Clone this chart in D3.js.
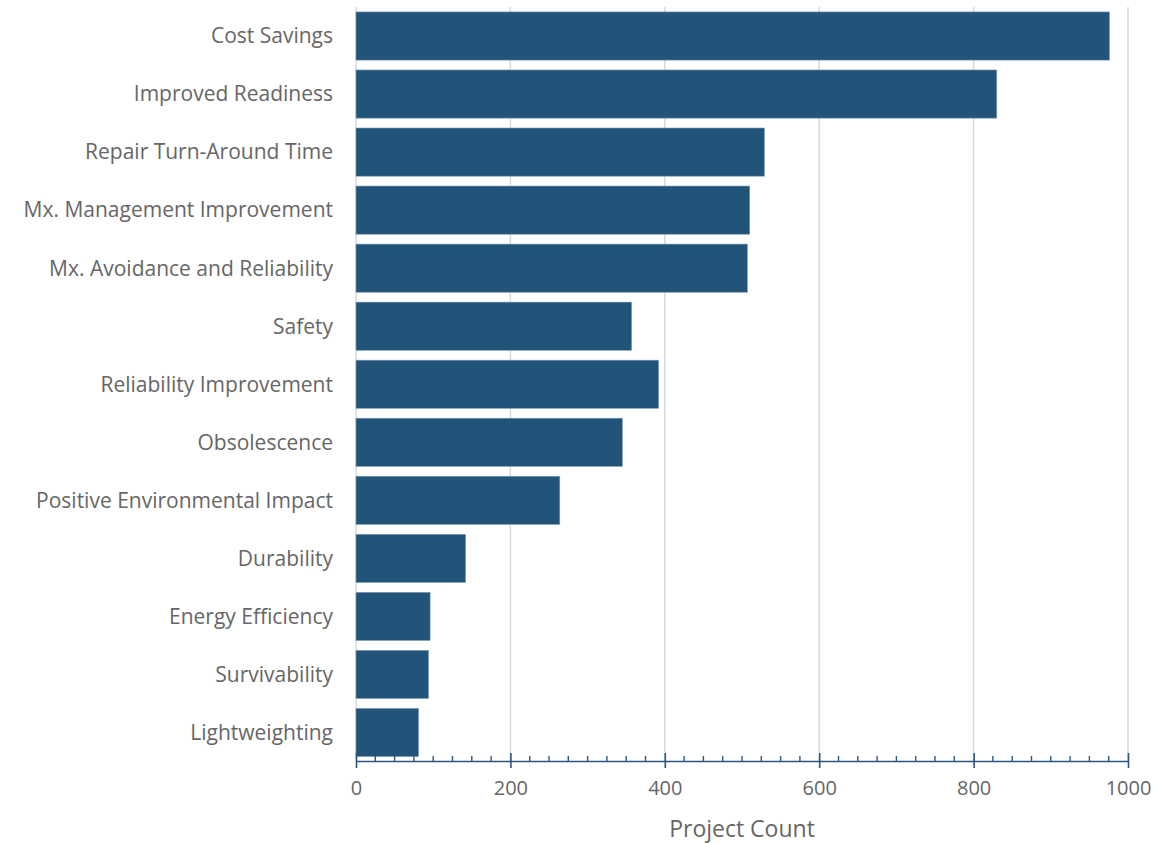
<!DOCTYPE html>
<html>
<head>
<meta charset="utf-8">
<script src="https://cdn.jsdelivr.net/npm/d3@7"></script>
<style>
  body { margin: 0; background: #fff; }
  text { font-family: "Open Sans", "Noto Sans", sans-serif; fill: #666; }
</style>
</head>
<body>
<script>
const categories = [
  'Cost Savings', 'Improved Readiness', 'Repair Turn-Around Time',
  'Mx. Management Improvement', 'Mx. Avoidance and Reliability', 'Safety',
  'Reliability Improvement', 'Obsolescence', 'Positive Environmental Impact',
  'Durability', 'Energy Efficiency', 'Survivability', 'Lightweighting'
];
const counts = [976, 830, 529, 510, 507, 357, 392, 345, 264, 142, 96, 94, 81];
const xTicks = [0, 200, 400, 600, 800, 1000];
const xTitle = 'Project Count';

const width = 1171;
const height = 843;
const margin = { top: 7, right: 43, bottom: 82, left: 356 };

const data = categories.map((c, i) => ({ name: c, value: counts[i] }));

const x = d3.scaleLinear()
  .domain([0, 1000])
  .range([margin.left, width - margin.right]);

const y = d3.scaleBand()
  .domain(categories)
  .range([margin.top, height - margin.bottom + 0.5])
  .paddingInner(0.17)
  .paddingOuter(0.085);

const svg = d3.select('body')
  .append('svg')
  .attr('width', width)
  .attr('height', height);

// gridlines
svg.append('g')
  .selectAll('line')
  .data(xTicks)
  .join('line')
  .attr('x1', d => x(d))
  .attr('x2', d => x(d))
  .attr('y1', margin.top)
  .attr('y2', height - margin.bottom)
  .attr('stroke', '#d9d9d9')
  .attr('stroke-width', 1.5);

// bars
svg.append('g')
  .selectAll('rect')
  .data(data)
  .join('rect')
  .attr('x', x(0))
  .attr('y', d => y(d.name))
  .attr('width', d => x(d.value) - x(0))
  .attr('height', y.bandwidth())
  .attr('fill', '#225378')
  .attr('stroke', '#7f9db8')
  .attr('stroke-width', 0.6);

// category labels
svg.append('g')
  .selectAll('text')
  .data(data)
  .join('text')
  .attr('x', margin.left - 23)
  .attr('y', d => y(d.name) + y.bandwidth() / 2)
  .attr('dy', '0.35em')
  .attr('text-anchor', 'end')
  .style('font-size', '21px')
  .text(d => d.name);

// x axis
const axisY = height - margin.bottom;
const xAxis = g => g
  .attr('transform', `translate(0,${axisY})`)
  .call(d3.axisBottom(x).tickValues(xTicks).tickFormat(d3.format('d'))
    .tickSize(7).tickSizeOuter(0).tickPadding(13))
  .call(g => g.select('.domain').attr('stroke', '#2a5680').attr('stroke-width', 1.6))
  .call(g => g.selectAll('.tick line').attr('stroke', '#2a5680').attr('stroke-width', 1.6).attr('y1', -8))
  .call(g => g.selectAll('.tick text').style('font-size', '20px').attr('fill', '#666'));

svg.append('g').call(xAxis);

// minor ticks
svg.append('g')
  .selectAll('line')
  .data(d3.range(25, 1000, 25).filter(v => v % 200 !== 0))
  .join('line')
  .attr('x1', d => x(d))
  .attr('x2', d => x(d))
  .attr('y1', axisY - 5)
  .attr('y2', axisY)
  .attr('stroke', '#2a5680')
  .attr('stroke-width', 1.4);

svg.append('text')
  .attr('x', (x(0) + x(1000)) / 2)
  .attr('y', height - 6)
  .attr('text-anchor', 'middle')
  .style('font-size', '23px')
  .text(xTitle);
</script>
</body>
</html>
